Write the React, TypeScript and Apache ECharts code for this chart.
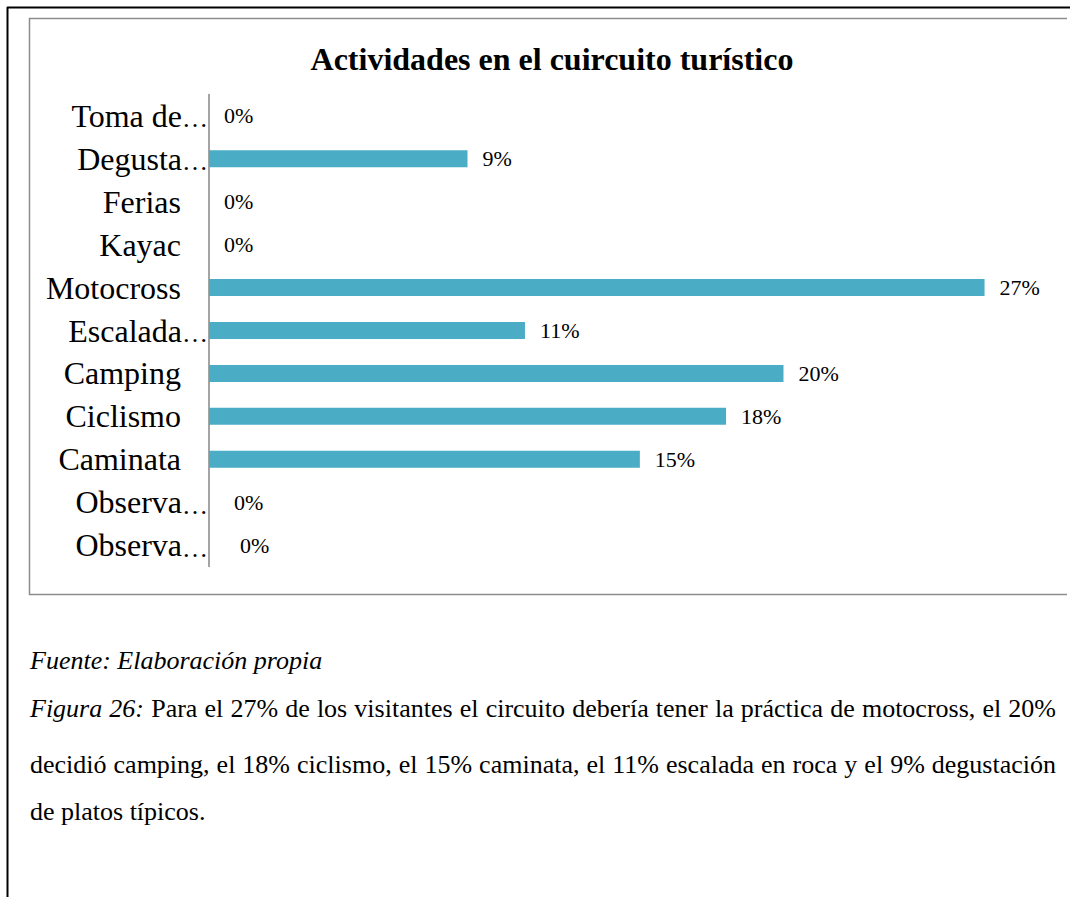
import React, { useEffect, useRef } from "react";
import * as echarts from "echarts";

const categories = [
  "Toma de…",
  "Degusta…",
  "Ferias",
  "Kayac",
  "Motocross",
  "Escalada…",
  "Camping",
  "Ciclismo",
  "Caminata",
  "Observa…",
  "Observa…",
];
const values = [0, 9, 0, 0, 27, 11, 20, 18, 15, 0, 0];
const labelGap = [15, 15, 15, 15, 15, 15, 15, 15, 15, 25, 31];

const titleText = "Actividades en el cuircuito turístico";
const sourceText = "Fuente: Elaboración propia";
const captionLead = "Figura 26:";
const captionLines = [
  " Para el 27% de los visitantes el circuito debería tener la práctica de motocross, el 20%",
  "decidió camping, el 18% ciclismo, el 15% caminata, el 11% escalada en roca y el 9% degustación",
  "de platos típicos.",
];

const SERIF = "'Liberation Serif', 'Times New Roman', serif";

export default function App() {
  const ref = useRef<HTMLDivElement>(null);

  useEffect(() => {
    if (!ref.current) return;
    const chart = echarts.init(ref.current, null, { renderer: "svg" });
    chart.setOption({
      animation: false,
      backgroundColor: "#ffffff",
      grid: { left: 209, top: 94.5, width: 833, height: 472 },
      xAxis: {
        type: "value",
        min: 0,
        max: 29,
        show: false,
      },
      yAxis: {
        type: "category",
        inverse: true,
        data: categories,
        axisLine: { show: true, lineStyle: { color: "#868686", width: 1.5 } },
        axisTick: { show: false },
        splitLine: { show: false },
        axisLabel: {
          margin: 1,
          color: "#000",
          fontFamily: SERIF,
          fontSize: 32,
          formatter: (v: string) =>
            v.endsWith("…")
              ? `{t|${v.slice(0, -1)}}{e|…}`
              : `{n|${v}}`,
          rich: {
            t: { fontFamily: SERIF, fontSize: 32, color: "#000", verticalAlign: "bottom" },
            e: { fontFamily: SERIF, fontSize: 26, color: "#000", verticalAlign: "bottom" },
            n: {
              fontFamily: SERIF,
              fontSize: 32,
              color: "#000",
              padding: [0, 27, 0, 0],
            },
          },
        },
      },
      series: [
        {
          type: "bar",
          barWidth: 17,
          itemStyle: { color: "#4BACC6" },
          data: values.map((v, i) => ({
            value: v,
            label: { distance: labelGap[i] },
          })),
          label: {
            show: true,
            position: "right",
            formatter: "{c}%",
            color: "#000",
            fontFamily: SERIF,
            fontSize: 22,
          },
        },
      ],
      graphic: [
        {
          type: "line",
          shape: { x1: 7.5, y1: 7, x2: 7.5, y2: 897 },
          style: { stroke: "#000", lineWidth: 2 },
        },
        {
          type: "line",
          shape: { x1: 7, y1: 7.5, x2: 1070, y2: 7.5 },
          style: { stroke: "#000", lineWidth: 2 },
        },
        {
          type: "polyline",
          shape: {
            points: [
              [1067, 18.5],
              [29.5, 18.5],
              [29.5, 594.5],
              [1067, 594.5],
            ],
          },
          style: { stroke: "#8c8c8c", lineWidth: 1.5, fill: "none" },
        },
        {
          type: "text",
          x: 552,
          y: 59,
          style: {
            text: titleText,
            font: `bold 32px ${SERIF}`,
            fill: "#000",
            align: "center",
            verticalAlign: "middle",
          },
        },
        {
          type: "text",
          x: 30,
          y: 660,
          style: {
            text: sourceText,
            font: `italic 26px ${SERIF}`,
            fill: "#000",
            align: "left",
            verticalAlign: "middle",
          },
        },
      ],
    });
    return () => chart.dispose();
  }, []);

  const lineTops = [694, 750, 797];

  return (
    <div
      style={{
        position: "absolute",
        left: 0,
        top: 0,
        width: 1070,
        height: 897,
        overflow: "hidden",
        background: "#fff",
      }}
    >
      <div ref={ref} style={{ position: "absolute", left: 0, top: 0, width: 1070, height: 897 }} />
      {captionLines.map((line, i) => (
        <div
          key={i}
          style={{
            position: "absolute",
            left: 30,
            top: lineTops[i],
            width: 1026,
            fontFamily: SERIF,
            fontSize: 26,
            lineHeight: "30px",
            color: "#000",
            whiteSpace: "nowrap",
            textAlign: i < 2 ? "justify" : "left",
            textAlignLast: i < 2 ? "justify" : "left",
          }}
        >
          {i === 0 ? <i>{captionLead}</i> : null}
          {line}
        </div>
      ))}
    </div>
  );
}
